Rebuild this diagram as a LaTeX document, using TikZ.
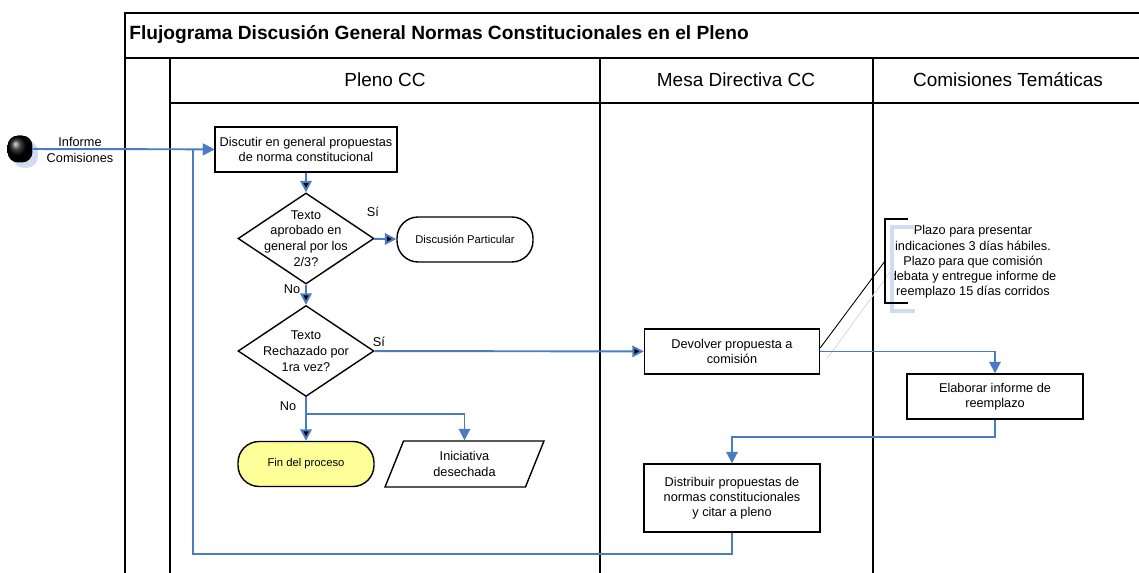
\documentclass[tikz,border=0pt]{standalone}
\usepackage{fontspec}
\setmainfont{Liberation Sans}
\usetikzlibrary{arrows.meta,shapes.geometric,positioning,shadows}
\definecolor{flujoazul}{RGB}{74,123,196}
\definecolor{sombra}{RGB}{208,220,242}
\definecolor{amarillo}{RGB}{255,255,153}
\tikzset{
    proceso/.style={
    rectangle,draw=black,line width=0.8pt,align=center,
    font=\fontsize{7.25}{8.7}\selectfont,inner sep=1pt
    },
    decision/.style={
    diamond,draw=black,line width=0.8pt,align=center,inner sep=-8pt,aspect=1.5,
    minimum width=2.72cm,minimum height=1.82cm,
    font=\fontsize{7.2}{9}\selectfont
    },
    terminal/.style={
    rectangle,rounded corners=12pt,draw=black,line width=0.8pt,
    minimum width=2.72cm,minimum height=0.9cm,font=\fontsize{6.4}{8}\selectfont
    },
    datos/.style={
    trapezium,trapezium left angle=63,trapezium right angle=117,
    trapezium stretches body,draw=black,line width=0.8pt,align=center,
    minimum width=3.18cm,minimum height=0.92cm,font=\fontsize{7.25}{8.7}\selectfont
    },
    inicio/.style={
    rectangle,rounded corners=6pt,minimum width=0.5cm,minimum height=0.54cm,
    ball color=black,
    drop shadow={fill=sombra,opacity=1,shadow xshift=3pt,shadow yshift=-3pt}
    },
    flujo/.style={
    draw=flujoazul,line width=1.1pt,-{Triangle[length=6.5pt,width=6.5pt]}
    },
    marco/.style={draw=black,line width=1.6pt},
    etiqueta/.style={font=\fontsize{7.25}{8.7}\selectfont,inner sep=0pt},
    carril/.style={font=\fontsize{10.8}{12}\selectfont},
}

\begin{document}
\begin{tikzpicture}[x=0.02cm,y=-0.02cm]
  \useasboundingbox (0,0) rectangle (1139,573);

  % marco y carriles
  \draw[marco] (125,573) -- (125,13) -- (1139,13);
  \draw[marco] (125,58) -- (1139,58);
  \draw[marco] (170,103) -- (1139,103);
  \foreach \x in {170,600,873}
    \draw[marco] (\x,58) -- (\x,573);

  \node[anchor=west,font=\bfseries\fontsize{10.9}{12}\selectfont,inner sep=0pt] (titulo) at (129,35)
    {Flujograma Discusión General Normas Constitucionales en el Pleno};
  \node[carril] (pleno) at (385,80) {Pleno CC};
  \node[carril] (mesa) at (736,80) {Mesa Directiva CC};
  \node[carril] (comisiones) at (1008,80) {Comisiones Temáticas};

  % nodos
  \node[inicio] (inicio) at (20,149) {};
  \node[etiqueta,align=center] (informe) at (80,150) {Informe\\Comisiones};
  \node[proceso,minimum width=3.64cm,minimum height=0.9cm] (discutir) at (306,149.5)
    {Discutir en general propuestas\\de norma constitucional};
  \node[decision] (aprobado) at (306,238.5) {Texto\\aprobado en\\general por los\\2/3?};
  \node[terminal] (particular) at (465,239.5) {Discusión Particular};
  \node[decision] (rechazado) at (306,351) {Texto\\Rechazado por\\1ra vez?};
  \node[terminal,fill=amarillo] (fin) at (306,464) {Fin del proceso};
  \node[datos] (desechada) at (464.5,464) {Iniciativa\\desechada};
  \node[proceso,minimum width=3.5cm,minimum height=0.9cm] (devolver) at (732,351.5)
    {Devolver propuesta a\\comisión};
  \node[proceso,minimum width=3.52cm,minimum height=0.9cm] (elaborar) at (995,396.5)
    {Elaborar informe de\\reemplazo};
  \node[proceso,minimum width=3.52cm,minimum height=1.36cm] (distribuir) at (732,498)
    {Distribuir propuestas de\\normas constitucionales\\y citar a pleno};
  \node[etiqueta,align=center] (nota) at (973,262)
    {Plazo para presentar\\indicaciones 3 días hábiles.\\Plazo para que comisión\\debata y entregue informe de\\reemplazo 15 días corridos};
  \coordinate (corchete) at (885,261);
  \coordinate (retorno) at (193,554);

  % etiquetas
  \node[etiqueta] at (373,212) {Sí};
  \node[etiqueta] at (292,289) {No};
  \node[etiqueta] at (379,342) {Sí};
  \node[etiqueta] at (288,406) {No};

  % anotacion
  \draw[sombra,line width=1.8pt] (915,227) -- (892,227) -- (892,311) -- (915,311);
  \draw[sombra,line width=0.5pt] ([shift={(7,7)}]devolver.east) -- ([shift={(8,7)}]corchete);
  \draw[black,line width=1.6pt] (908,219) -- (885,219) -- (885,303) -- (908,303);
  \draw[black,line width=0.5pt] ([yshift=2pt]devolver.east) -- (corchete);

  % conexiones
  \path[flujo]
    (inicio) edge (discutir)
    (discutir) edge (aprobado)
    (aprobado) edge (particular)
               edge (rechazado)
    (rechazado) edge (devolver)
                edge (fin);
  \draw[flujo] (rechazado.south) -- ++(0,17) -| (desechada.north);
  \draw[flujo] (devolver.east) -| (elaborar.north);
  \draw[flujo] (elaborar.south) -- ++(0,17) -| (distribuir.north);
  \draw[flujo] (distribuir.south) |- (retorno) |- (discutir.west);
\end{tikzpicture}
\end{document}
